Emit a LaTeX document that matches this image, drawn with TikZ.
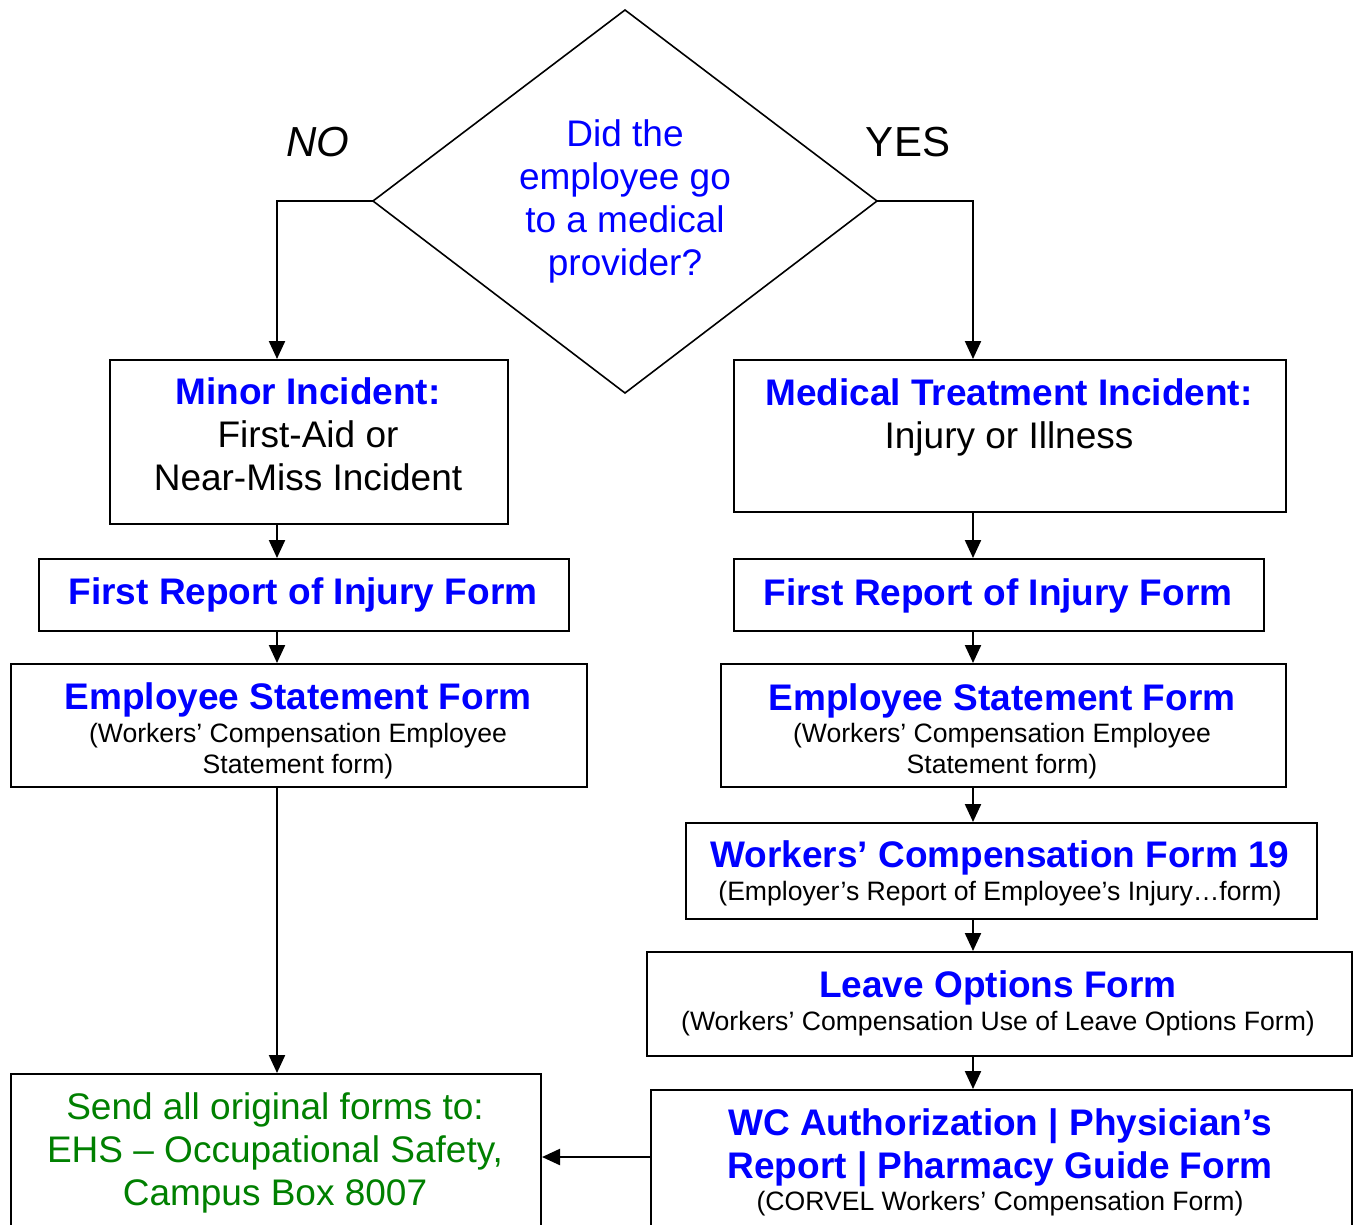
\documentclass[tikz,border=0pt]{standalone}
\usepackage{fontspec}
\setmainfont{Liberation Sans}
\usetikzlibrary{arrows.meta}
\definecolor{hblue}{RGB}{0,0,255}
\definecolor{hgreen}{RGB}{0,128,0}
\begin{document}
\begin{tikzpicture}[x=1pt,y=-1pt,
 box/.style={draw, line width=2pt, anchor=north west, inner sep=0pt, rectangle},
 arr/.style={line width=2.2pt, -{Triangle[length=18pt,width=16pt]}},
 big/.style={anchor=base, inner sep=0pt, font=\fontsize{37}{43}\selectfont},
 head/.style={anchor=base, inner sep=0pt, font=\fontsize{37}{43}\selectfont\bfseries, text=hblue},
 small/.style={anchor=base, inner sep=0pt, font=\fontsize{26.6}{31}\selectfont},
 lab/.style={anchor=base, inner sep=0pt, font=\fontsize{42}{48}\selectfont},
]
\path[use as bounding box, clip] (0,0) rectangle (1356,1224);
\fill[white] (0,0) rectangle (1356,1224);

% columns
\coordinate (colL) at (277,0);
\coordinate (colR) at (973,0);

% diamond
\coordinate (dT) at (625,10);
\coordinate (dL) at (373,201);
\coordinate (dR) at (877,201);
\coordinate (dB) at (625,393);
\draw[line width=1.6pt] (dT) -- (dR) -- (dB) -- (dL) -- cycle;
\node[big, text=hblue] (q1) at (625,146) {Did the};
\node[big, text=hblue] (q2) at (625,189) {employee go};
\node[big, text=hblue] (q3) at (625,232) {to a medical};
\node[big, text=hblue] (q4) at (625,275) {provider?};
\node[lab, font=\fontsize{42}{48}\selectfont\itshape] (no) at (318,156) {NO};
\node[lab] (yes) at (908,156) {YES};

% boxes
\node[box, minimum width=398pt, minimum height=164pt] (minor) at (109,359) {};
\node[box, minimum width=552pt, minimum height=152pt] (med) at (733,359) {};
\node[box, minimum width=530pt, minimum height=72pt] (frL) at (38,558) {};
\node[box, minimum width=530pt, minimum height=72pt] (frR) at (733,558) {};
\node[box, minimum width=576pt, minimum height=123pt] (esL) at (10,663) {};
\node[box, minimum width=565pt, minimum height=123pt] (esR) at (720,663) {};
\node[box, minimum width=631pt, minimum height=96pt] (f19) at (685,822) {};
\node[box, minimum width=705pt, minimum height=104pt] (leave) at (646,951) {};
\node[box, minimum width=701pt, minimum height=200pt] (wc) at (650,1089) {};
\node[box, minimum width=530pt, minimum height=200pt] (send) at (10,1073) {};

% texts
\node[head] (t1) at (308,404) {Minor Incident:};
\node[big] (t2) at (308,447) {First-Aid or};
\node[big] (t3) at (308,490) {Near-Miss Incident};

\node[head] (t4) at (1009,405) {Medical Treatment Incident:};
\node[big] (t5) at (1009,448) {Injury or Illness};

\node[head] (t6) at (303,604) {First Report of Injury Form};
\node[head] (t7) at (998,605) {First Report of Injury Form};

\node[head] (t8) at (298,709) {Employee Statement Form};
\node[small] (t9) at (298,742) {(Workers’ Compensation Employee};
\node[small] (t10) at (298,773) {Statement form)};

\node[head] (t11) at (1002,710) {Employee Statement Form};
\node[small] (t12) at (1002,742) {(Workers’ Compensation Employee};
\node[small] (t13) at (1002,773) {Statement form)};

\node[head] (t14) at (1000,867) {Workers’ Compensation Form 19};
\node[small] (t15) at (1000,900) {(Employer’s Report of Employee’s Injury…form)};

\node[head] (t16) at (998,997) {Leave Options Form};
\node[small] (t17) at (998,1030) {(Workers’ Compensation Use of Leave Options Form)};

\node[head] (t18) at (1000,1135) {WC Authorization | Physician’s};
\node[head] (t19) at (1000,1178) {Report | Pharmacy Guide Form};
\node[small] (t20) at (1000,1210) {(CORVEL Workers’ Compensation Form)};

\node[big, text=hgreen] (t21) at (275,1119) {Send all original forms to:};
\node[big, text=hgreen] (t22) at (275,1162) {EHS – Occupational Safety,};
\node[big, text=hgreen] (t23) at (275,1205) {Campus Box 8007};

% connectors
\draw[arr] (dL) -| (minor.north -| colL);
\draw[arr] (dR) -| (med.north -| colR);
\draw[arr] (minor.south -| colL) -- (frL.north -| colL);
\draw[arr] (frL.south -| colL) -- (esL.north -| colL);
\draw[arr] (esL.south -| colL) -- (send.north -| colL);
\draw[arr] (med.south -| colR) -- (frR.north -| colR);
\draw[arr] (frR.south -| colR) -- (esR.north -| colR);
\draw[arr] (esR.south -| colR) -- (f19.north -| colR);
\draw[arr] (f19.south -| colR) -- (leave.north -| colR);
\draw[arr] (leave.south -| colR) -- (wc.north -| colR);
\coordinate (wcy) at (0,1157);
\draw[arr] (wc.west |- wcy) -- (send.east |- wcy);
\end{tikzpicture}
\end{document}
